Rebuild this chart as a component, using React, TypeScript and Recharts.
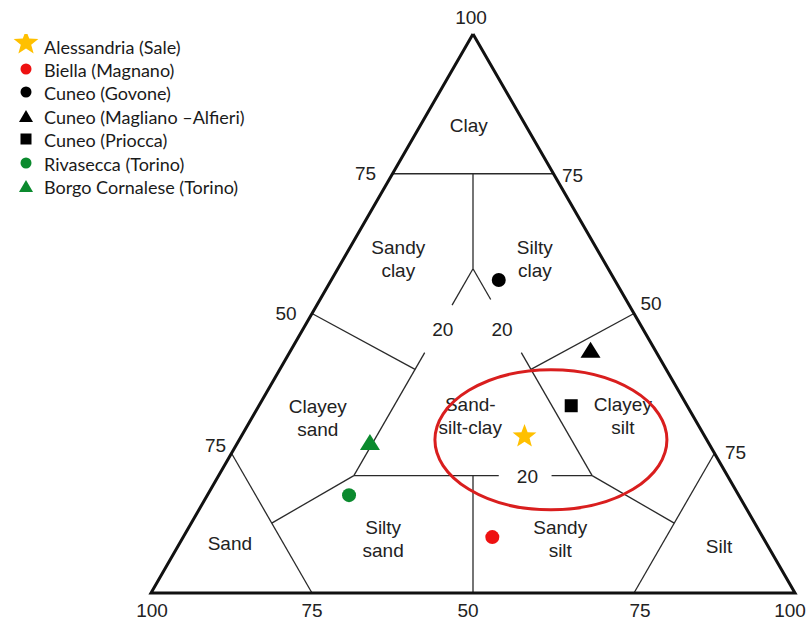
import React from 'react'
import { ScatterChart, Scatter, XAxis, YAxis, ReferenceLine } from 'recharts'

// sample sites (percentages)
const sites = [
  'Alessandria (Sale)',
  'Biella (Magnano)',
  'Cuneo (Govone)',
  'Cuneo (Magliano –Alfieri)',
  'Cuneo (Priocca)',
  'Rivasecca (Torino)',
  'Borgo Cornalese (Torino)',
]
const clay = [28, 10, 56, 43.5, 33.5, 17.5, 27]
const silt = [44, 48, 26, 46.5, 48.5, 22, 20.5]
const sand = [28, 42, 18, 10, 18, 60.5, 52.5]
const markers = ['star', 'circle', 'circle', 'triangle', 'square', 'circle', 'triangle']
const colors = ['#FFC000', '#EE1111', '#000000', '#000000', '#000000', '#0B8A2E', '#0B8A2E']

// Shepard class boundaries, each end as [clay, silt]
const boundaries: number[][][] = [
  [[75, 0], [75, 25]],
  [[75, 12.5], [58, 21]],
  [[58, 21], [51.5, 21]],
  [[43, 21], [21, 21]],
  [[58, 21], [52.5, 26.5]],
  [[43, 36], [21, 58]],
  [[21, 21], [21, 43.5]],
  [[21, 51.7], [21, 58]],
  [[21, 39.5], [0, 50]],
  [[50, 0], [40, 21]],
  [[50, 50], [40, 39]],
  [[21, 21], [12.5, 12.5]],
  [[21, 58], [12.5, 75]],
  [[25, 0], [0, 25]],
  [[25, 75], [0, 75]],
]
const outline = [[100, 0], [0, 0], [0, 100], [100, 0]]

const regionNames = [
  ['Clay'],
  ['Sandy', 'clay'],
  ['Silty', 'clay'],
  ['Clayey', 'sand'],
  ['Sand-', 'silt-clay'],
  ['Clayey', 'silt'],
  ['Sand'],
  ['Silty', 'sand'],
  ['Sandy', 'silt'],
  ['Silt'],
]
const regionClay = [83.7, 59.8, 59.8, 31.4, 31.75, 31.75, 8.9, 9.7, 9.7, 8.4]
const regionSilt = [7.5, 8.5, 29.7, 10.2, 33.7, 57.4, 7.8, 31.2, 58.7, 84]

const cutLabels = ['20', '20', '20']
const cutClay = [47.2, 47.2, 20.9]
const cutSilt = [21.7, 30.9, 48]

const sideTickClay = [75, 50, 25]
const leftTickLabels = ['75', '50', '75']
const rightTickLabels = ['75', '50', '75']
const bottomTickSilt = [0, 25, 50, 75, 100]
const bottomTickLabels = ['100', '75', '50', '75', '100']
const apexLabel = '100'

const ellipseCenter = { clay: 27.4, silt: 48.4 }

const W = 811
const H = 620
const X_DOMAIN = [-151 / 6.44, (W - 151) / 6.44]
const Y_DOMAIN = [-(H - 593) / 5.59, 593 / 5.59]

const toXY = (c: number, s: number) => ({ x: s + c / 2, y: c })

const FONT = "'Liberation Sans', Arial, Helvetica, sans-serif"

const leftOff = [[-27, -1], [-26, 0], [-16, -8]]
const rightOff = [[19, 1], [17, -10], [21, -1]]
const bottomOff = [1, 0, -5, 6, -5]

const tickData = [
  { ...toXY(100, 0), lines: [apexLabel], dx: -2, dy: -17 },
  ...sideTickClay.map((c, i) => ({ ...toXY(c, 0), lines: [leftTickLabels[i]], dx: leftOff[i][0], dy: leftOff[i][1] })),
  ...sideTickClay.map((c, i) => ({ ...toXY(c, 100 - c), lines: [rightTickLabels[i]], dx: rightOff[i][0], dy: rightOff[i][1] })),
  ...bottomTickSilt.map((s, i) => ({ ...toXY(0, s), lines: [bottomTickLabels[i]], dx: bottomOff[i], dy: 17 })),
]
const regionData = regionNames.map((lines, i) => ({ ...toXY(regionClay[i], regionSilt[i]), lines, dx: 0, dy: 0 }))
const cutData = cutLabels.map((l, i) => ({ ...toXY(cutClay[i], cutSilt[i]), lines: [l], dx: 0, dy: 0 }))

const TextShape = (props: any) => {
  const { cx, cy, payload } = props
  const lines: string[] = payload.lines
  const lh = 23
  const x = cx + payload.dx
  const y0 = cy + payload.dy - ((lines.length - 1) * lh) / 2
  return (
    <text x={x} y={y0} fontFamily={FONT} fontSize={19} fill="#222" textAnchor="middle">
      {lines.map((l, i) => (
        <tspan key={i} x={x} y={y0 + i * lh} dy="0.36em">
          {l}
        </tspan>
      ))}
    </text>
  )
}

const starPoints = (cx: number, cy: number, R: number, r: number) => {
  const pts: string[] = []
  for (let k = 0; k < 10; k++) {
    const a = -Math.PI / 2 + (k * Math.PI) / 5
    const rad = k % 2 === 0 ? R : r
    pts.push(`${cx + rad * Math.cos(a)},${cy + rad * Math.sin(a)}`)
  }
  return pts.join(' ')
}

const Glyph = ({ kind, color, cx, cy, small }: any) => {
  if (kind === 'star') {
    const R = small ? 13 : 12.5
    return <polygon points={starPoints(cx, cy, R, R * 0.42)} fill={color} />
  }
  if (kind === 'circle') return <circle cx={cx} cy={cy} r={small ? 5.5 : 7} fill={color} />
  if (kind === 'triangle') {
    const w = small ? 14 : 20
    const h = small ? 12 : 16
    return <polygon points={`${cx - w / 2},${cy + h / 2} ${cx + w / 2},${cy + h / 2} ${cx},${cy - h / 2}`} fill={color} />
  }
  const s = small ? 11 : 13
  return <rect x={cx - s / 2} y={cy - s / 2} width={s} height={s} fill={color} />
}

const SiteLegend = () => (
  <div style={{ position: 'absolute', left: 10, top: 35, fontFamily: 'Lato, "Open Sans", sans-serif', fontSize: 18, color: '#1a1a1a' }}>
    {sites.map((name, i) => (
      <div key={name} style={{ display: 'flex', alignItems: 'center', height: 23.4, whiteSpace: 'nowrap' }}>
        <svg width={34} height={26} style={{ display: 'block' }}>
          <Glyph kind={markers[i]} color={colors[i]} cx={16} cy={i === 0 ? 9 : 12} small />
        </svg>
        <span>{name}</span>
      </div>
    ))}
  </div>
)

export default function App() {
  return (
    <div style={{ position: 'absolute', left: 0, top: 0, width: W, height: H, background: '#fff' }}>
      <ScatterChart width={W} height={H} margin={{ top: 0, right: 0, bottom: 0, left: 0 }}>
        <XAxis type="number" dataKey="x" domain={X_DOMAIN} hide allowDataOverflow />
        <YAxis type="number" dataKey="y" domain={Y_DOMAIN} hide allowDataOverflow />
        {boundaries.map((seg, i) => (
          <ReferenceLine
            key={i}
            segment={seg.map(([c, s]) => toXY(c, s))}
            stroke="#2a2a2a"
            strokeWidth={1.3}
            ifOverflow="visible"
          />
        ))}
        <Scatter
          data={outline.map(([c, s]) => toXY(c, s))}
          line={{ stroke: '#111', strokeWidth: 3 }}
          shape={() => <g />}
          legendType="none"
          isAnimationActive={false}
        />
        <Scatter data={tickData} shape={TextShape} legendType="none" isAnimationActive={false} />
        <Scatter data={regionData} shape={TextShape} legendType="none" isAnimationActive={false} />
        <Scatter data={cutData} shape={TextShape} legendType="none" isAnimationActive={false} />
        <Scatter
          data={[toXY(ellipseCenter.clay, ellipseCenter.silt)]}
          shape={(p: any) => <ellipse cx={p.cx} cy={p.cy} rx={116} ry={70} fill="none" stroke="#D91E1E" strokeWidth={3} />}
          legendType="none"
          isAnimationActive={false}
        />
        {sites.map((name, i) => (
          <Scatter
            key={name}
            name={name}
            data={[{ ...toXY(clay[i], silt[i]), sand: sand[i] }]}
            shape={(p: any) => <Glyph kind={markers[i]} color={colors[i]} cx={p.cx} cy={p.cy} />}
            isAnimationActive={false}
          />
        ))}
      </ScatterChart>
      <SiteLegend />
    </div>
  )
}
